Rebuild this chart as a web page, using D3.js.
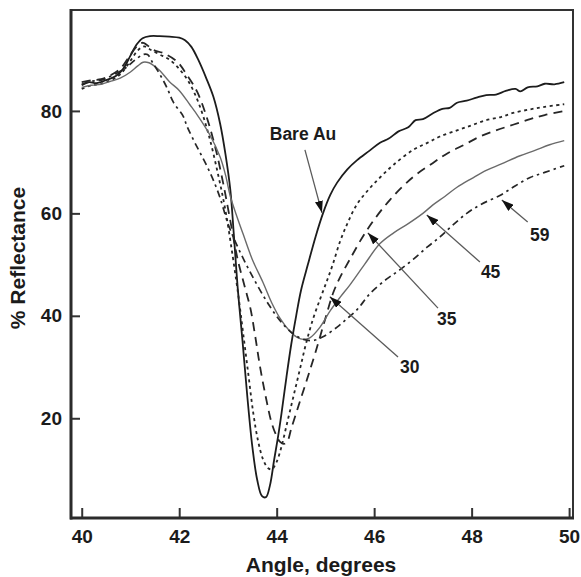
<!DOCTYPE html>
<html>
<head>
<meta charset="utf-8">
<script src="https://cdn.jsdelivr.net/npm/d3@7"></script>
<style>
  html, body { margin: 0; padding: 0; background: #fff; }
  svg { display: block; }
  text { font-family: "Liberation Sans", Arial, Helvetica, sans-serif; font-weight: bold; fill: #1b1b1b; }
</style>
</head>
<body>
<svg id="chart" width="581" height="577"></svg>
<script>
// Reflectance (%) versus incidence angle (degrees), one array per film
const bareAu = [
  [40.0,85.0],[40.15,85.6],[40.3,85.4],[40.5,86.0],[40.7,86.8],[40.85,88.2],[41.0,90.8],
  [41.13,93.0],[41.25,94.2],[41.4,94.6],[41.6,94.6],[41.8,94.5],[42.0,94.3],[42.12,93.8],
  [42.25,92.5],[42.4,89.8],[42.55,86.5],[42.7,82.8],[42.84,77.5],[42.95,71.5],[43.05,64.5],
  [43.12,56.0],[43.2,45.5],[43.3,35.0],[43.4,24.0],[43.5,14.5],[43.6,8.0],[43.7,4.8],
  [43.78,4.6],[43.86,6.8],[43.95,12.0],[44.03,16.5],[44.1,21.0],[44.2,28.0],[44.3,34.5],
  [44.4,40.0],[44.5,45.0],[44.64,50.0],[44.8,55.5],[44.95,60.0],[45.1,63.6],[45.24,66.0],
  [45.45,68.6],[45.65,70.4],[45.9,72.2],[46.12,73.8],[46.3,74.6],[46.5,76.0],[46.7,76.8],
  [46.85,78.2],[47.0,78.4],[47.2,79.5],[47.4,80.4],[47.55,80.6],[47.7,81.6],[47.9,82.0],
  [48.1,82.6],[48.3,83.1],[48.5,83.2],[48.7,83.9],[48.9,84.3],[49.0,83.8],[49.15,84.6],
  [49.35,84.8],[49.5,85.3],[49.7,85.2],[49.9,85.6]
];
const film30 = [
  [40.0,84.3],[40.2,85.0],[40.4,85.3],[40.6,86.0],[40.8,87.2],[41.0,89.8],[41.15,91.8],
  [41.28,92.6],[41.4,92.0],[41.6,91.0],[41.8,90.0],[42.0,88.2],[42.2,85.6],[42.4,81.5],
  [42.6,75.5],[42.8,67.5],[42.95,60.5],[43.1,51.5],[43.22,43.5],[43.32,36.0],[43.42,28.5],
  [43.52,21.0],[43.62,15.5],[43.72,12.0],[43.82,10.3],[43.9,10.0],[44.0,11.5],[44.1,14.5],
  [44.2,18.5],[44.3,22.5],[44.4,26.5],[44.5,30.5],[44.6,34.5],[44.75,39.5],[44.9,43.5],
  [45.03,46.8],[45.15,50.0],[45.3,54.5],[45.45,58.0],[45.65,61.8],[45.9,64.8],[46.12,67.0],
  [46.4,69.5],[46.8,72.4],[47.1,73.8],[47.35,75.0],[47.7,76.2],[48.0,77.2],[48.3,78.2],
  [48.6,78.8],[48.85,79.6],[49.2,80.3],[49.5,80.8],[49.9,81.3]
];
const film35 = [
  [40.0,85.6],[40.2,86.0],[40.4,86.2],[40.6,87.0],[40.8,88.3],[41.0,91.0],[41.15,92.8],
  [41.26,93.3],[41.47,91.9],[41.67,91.3],[41.96,89.6],[42.16,87.0],[42.37,83.7],[42.57,78.6],
  [42.75,72.5],[42.9,66.0],[43.05,58.5],[43.2,51.0],[43.35,45.5],[43.46,41.5],[43.56,36.0],
  [43.66,30.0],[43.78,24.0],[43.9,19.0],[44.0,16.5],[44.07,15.4],[44.15,15.0],[44.22,15.5],
  [44.3,18.0],[44.45,22.5],[44.62,27.5],[44.8,33.0],[45.0,39.5],[45.16,44.5],[45.3,47.5],
  [45.5,51.0],[45.85,56.7],[46.32,62.6],[46.8,67.1],[47.2,69.8],[47.5,71.7],[47.85,73.4],
  [48.17,75.0],[48.5,76.2],[48.85,77.3],[49.2,78.4],[49.5,79.2],[49.9,80.0]
];
const film45 = [
  [40.0,84.6],[40.2,85.0],[40.4,85.2],[40.6,85.8],[40.79,86.4],[41.0,87.6],[41.15,88.8],
  [41.26,89.5],[41.38,89.4],[41.47,88.9],[41.6,87.9],[41.8,85.7],[42.0,84.0],[42.22,81.2],
  [42.4,78.8],[42.63,75.3],[42.84,71.0],[42.95,67.5],[43.05,63.3],[43.18,59.5],[43.31,56.0],
  [43.5,51.0],[43.72,46.5],[43.9,42.5],[44.07,39.5],[44.27,37.0],[44.42,35.8],[44.55,35.4],
  [44.68,35.7],[44.89,37.8],[45.1,41.0],[45.3,43.6],[45.5,46.0],[45.8,50.0],[46.12,54.1],
  [46.4,56.2],[46.7,58.0],[47.0,60.0],[47.2,61.6],[47.45,63.3],[47.7,65.1],[48.0,66.8],
  [48.3,68.4],[48.6,69.6],[48.98,71.2],[49.3,72.3],[49.6,73.4],[49.9,74.2]
];
const film59 = [
  [40.0,85.2],[40.2,85.8],[40.4,86.0],[40.6,86.8],[40.8,87.8],[40.93,88.6],[41.1,90.0],
  [41.26,91.0],[41.35,91.0],[41.45,89.5],[41.6,87.2],[41.75,84.5],[41.88,81.7],[42.08,79.0],
  [42.16,77.0],[42.3,74.2],[42.43,71.8],[42.57,69.2],[42.7,66.5],[42.84,63.0],[43.0,58.0],
  [43.15,54.5],[43.35,50.5],[43.6,46.0],[43.85,42.0],[44.1,38.7],[44.35,36.4],[44.55,35.4],
  [44.75,35.2],[44.95,35.9],[45.24,37.8],[45.45,39.5],[45.65,41.2],[45.92,44.4],[46.26,47.2],
  [46.5,48.8],[46.8,51.0],[47.1,53.5],[47.35,55.4],[47.6,57.6],[47.9,60.0],[48.2,61.8],
  [48.58,63.5],[48.9,65.4],[49.2,67.0],[49.5,68.0],[49.9,69.3]
];

const xTicks = [40, 42, 44, 46, 48, 50];
const yTicks = [20, 40, 60, 80];

const seriesNames = ["Bare Au", "30", "35", "45", "59"];
const seriesData = [bareAu, film30, film35, film45, film59];

// Plot box and scales
const box = { left: 71, right: 573, top: 10, bottom: 518 };
const x = d3.scaleLinear().domain([39.78, 50.08]).range([box.left, box.right]);
const y = d3.scaleLinear().domain([0.53, 99.7]).range([box.bottom, box.top]);

const svg = d3.select("#chart");

// Stroke style per curve
const styles = [
  { stroke: "#1c1c1c", width: 1.8, dash: null },
  { stroke: "#262626", width: 1.8, dash: "3,3.5" },
  { stroke: "#262626", width: 1.8, dash: "9,6" },
  { stroke: "#6a6a6a", width: 1.4, dash: null },
  { stroke: "#262626", width: 1.7, dash: "7,4,2.5,4" }
];

const line = d3.line()
  .x(d => x(d[0]))
  .y(d => y(d[1]))
  .curve(d3.curveCatmullRom.alpha(0.5));

const curves = svg.append("g").attr("class", "curves");
seriesData.forEach((data, i) => {
  const s = styles[i];
  curves.append("path")
    .datum(data)
    .attr("d", line)
    .attr("fill", "none")
    .attr("stroke", s.stroke)
    .attr("stroke-width", s.width)
    .attr("stroke-linejoin", "round")
    .attr("stroke-dasharray", s.dash);
});

// Frame: thin top/right border, heavier left/bottom axes
svg.append("path")
  .attr("d", `M${box.left},${box.top}H${box.right}V${box.bottom}`)
  .attr("fill", "none").attr("stroke", "#333").attr("stroke-width", 2);

const xAxis = d3.axisBottom(x).tickValues(xTicks).tickSize(-10).tickPadding(12).tickFormat(d3.format("d"));
const gx = svg.append("g").attr("transform", `translate(0,${box.bottom})`).call(xAxis);
gx.select(".domain").remove();
gx.selectAll(".tick line").attr("stroke", "#333").attr("stroke-width", 2);
gx.selectAll(".tick text").attr("font-size", 19).attr("dy", "0.71em").attr("fill", "#1b1b1b");
svg.append("line")
  .attr("x1", box.left - 1).attr("x2", box.right + 1)
  .attr("y1", box.bottom).attr("y2", box.bottom)
  .attr("stroke", "#2b2b2b").attr("stroke-width", 3);

const yAxis = d3.axisLeft(y).tickValues(yTicks).tickSize(-9).tickPadding(9).tickFormat(d3.format("d"));
const gy = svg.append("g").attr("transform", `translate(${box.left},0)`).call(yAxis);
gy.select(".domain").remove();
gy.selectAll(".tick line").attr("stroke", "#333").attr("stroke-width", 2);
gy.selectAll(".tick text").attr("font-size", 19).attr("fill", "#1b1b1b");
svg.append("line")
  .attr("x1", box.left).attr("x2", box.left)
  .attr("y1", box.top - 1).attr("y2", box.bottom + 1.5)
  .attr("stroke", "#2b2b2b").attr("stroke-width", 3);

// Axis titles
svg.append("text")
  .attr("x", 321).attr("y", 572)
  .attr("text-anchor", "middle").attr("font-size", 21)
  .text("Angle, degrees");
svg.append("text")
  .attr("transform", "translate(25,258) rotate(-90)")
  .attr("text-anchor", "middle").attr("font-size", 21)
  .text("% Reflectance");

// Curve labels with arrows (positions in data units)
const callouts = [
  { name: "Bare Au", text: [44.54, 74.4], tail: [44.58, 72.4], tip: [44.93, 60.1] },
  { name: "30",      text: [46.73, 28.85], tail: [46.49, 31.97], tip: [45.09, 43.7] },
  { name: "35",      text: [47.49, 38.2], tail: [47.31, 41.5], tip: [45.87, 56.2] },
  { name: "45",      text: [48.39, 47.4], tail: [48.17, 50.5], tip: [47.08, 59.7] },
  { name: "59",      text: [49.40, 54.6], tail: [49.15, 58.3], tip: [48.62, 62.6] }
];

const defs = svg.append("defs");
defs.append("marker")
  .attr("id", "head")
  .attr("viewBox", "0 0 12 8")
  .attr("refX", 12).attr("refY", 4)
  .attr("markerUnits", "userSpaceOnUse")
  .attr("markerWidth", 12).attr("markerHeight", 8)
  .attr("orient", "auto")
  .append("path")
  .attr("d", "M0,0L12,4L0,8Z")
  .attr("fill", "#111");

const ann = svg.append("g").attr("class", "callouts");
callouts.forEach(c => {
  ann.append("line")
    .attr("x1", x(c.tail[0])).attr("y1", y(c.tail[1]))
    .attr("x2", x(c.tip[0])).attr("y2", y(c.tip[1]))
    .attr("stroke", "#5a5a5a").attr("stroke-width", 1.3)
    .attr("marker-end", "url(#head)");
  ann.append("text")
    .attr("x", x(c.text[0])).attr("y", y(c.text[1]))
    .attr("text-anchor", "middle").attr("font-size", 17.5)
    .text(c.name);
});
</script>
</body>
</html>
